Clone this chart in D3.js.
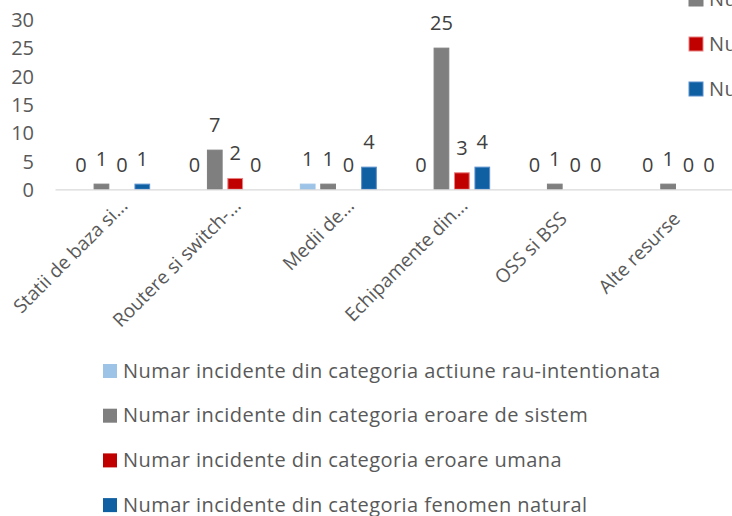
<!DOCTYPE html>
<html>
<head>
<meta charset="utf-8">
<script src="https://cdn.jsdelivr.net/npm/d3@7"></script>
<style>
  html, body { margin: 0; padding: 0; background: #fff; overflow: hidden; }
  svg { display: block; font-family: "Open Sans", sans-serif; }
</style>
</head>
<body>
<svg id="chart" width="732" height="516"></svg>
<script>
// ---- data ----
const categories = ["Statii de baza si...", "Routere si switch-...", "Medii de...", "Echipamente din...", "OSS si BSS", "Alte resurse"];
const seriesNames = [
  "Numar incidente din categoria actiune rau-intentionata",
  "Numar incidente din categoria eroare de sistem",
  "Numar incidente din categoria eroare umana",
  "Numar incidente din categoria fenomen natural"
];
const actiuneRau = [0, 0, 1, 0, 0, 0];
const eroareSistem = [1, 7, 1, 25, 1, 1];
const eroareUmana = [0, 2, 0, 3, 0, 0];
const fenomenNatural = [1, 0, 4, 4, 0, 0];
const yTicks = [0, 5, 10, 15, 20, 25, 30];

const seriesValues = [actiuneRau, eroareSistem, eroareUmana, fenomenNatural];
const colors = ["#9DC3E6", "#7F7F7F", "#C00000", "#0F5FA3"];
const strokes = ["#9DC3E6", "#7F7F7F", "#E88080", "#5B8FCB"];

const svg = d3.select("#chart");

const x0 = d3.scaleBand().domain(categories).range([55, 735]).paddingInner(0.3206).paddingOuter(0.1603);
const x1 = d3.scaleBand().domain(d3.range(seriesNames.length)).range([0, x0.bandwidth()]).paddingInner(0.231).paddingOuter(0);
const y = d3.scaleLinear().domain([0, 30]).range([189.3, 19.3]);

// y axis tick labels
const yAxis = d3.axisLeft(y).tickValues(yTicks).tickSize(0).tickPadding(0);
const gy = svg.append("g").attr("transform", "translate(34,0)").call(yAxis);
gy.select(".domain").remove();
gy.selectAll("text")
  .attr("font-family", "Open Sans, sans-serif")
  .attr("font-size", 20)
  .attr("fill", "#595959")
  .attr("dy", "0.36em")
  .attr("x", 0);

// bars
const groups = svg.append("g").selectAll("g")
  .data(categories)
  .join("g")
  .attr("transform", d => `translate(${x0(d)},0)`);

groups.each(function(cat, ci) {
  const g = d3.select(this);
  seriesValues.forEach((vals, si) => {
    const v = vals[ci];
    if (v > 0) {
      g.append("rect")
        .attr("x", x1(si) + 0.5)
        .attr("y", y(v) + 0.5)
        .attr("width", x1.bandwidth() - 1)
        .attr("height", y(0) - y(v) - 0.5)
        .attr("fill", colors[si])
        .attr("stroke", strokes[si])
        .attr("stroke-width", 1);
    }
    g.append("text")
      .attr("x", x1(si) + x1.bandwidth() / 2)
      .attr("y", y(v) - 17.5)
      .attr("text-anchor", "middle")
      .attr("font-size", 20)
      .attr("fill", "#404040")
      .text(v);
  });
});

// x axis baseline
const xAxis = d3.axisBottom(x0).tickSize(0).tickFormat("");
const gx = svg.append("g").attr("transform", `translate(0,${y(0)})`).call(xAxis);
gx.select(".domain").attr("stroke", "#D9D9D9").attr("stroke-width", 1.2);

// category labels, rotated -45
svg.append("g").selectAll("text")
  .data(categories)
  .join("text")
  .attr("transform", d => {
    const cx = x0(d) + x0.bandwidth() / 2;
    const trunc = d.endsWith("...");
    const ax = trunc ? cx + 17 : cx + 3;
    const ay = trunc ? 207 : 220;
    return `translate(${ax},${ay}) rotate(-45)`;
  })
  .attr("text-anchor", "end")
  .attr("font-size", 19)
  .attr("fill", "#595959")
  .text(d => d);

// bottom legend
const leg = svg.append("g").selectAll("g")
  .data(seriesNames)
  .join("g")
  .attr("transform", (d, i) => `translate(103,${364 + i * 44.7})`);
leg.append("rect").attr("width", 14).attr("height", 14).attr("fill", (d, i) => colors[i]);
leg.append("text").attr("x", 20).attr("y", 13.5).attr("font-size", 20).attr("letter-spacing", 0.45)
  .attr("fill", "#595959").text(d => d);

// right legend (clipped at the window edge, as in the reference)
const leg2 = svg.append("g").selectAll("g")
  .data(seriesNames)
  .join("g")
  .attr("transform", (d, i) => `translate(689,${-53 + i * 45})`);
leg2.append("rect").attr("width", 14).attr("height", 14).attr("fill", (d, i) => colors[i])
  .attr("stroke", (d, i) => strokes[i]).attr("stroke-width", 1);
leg2.append("text").attr("x", 20).attr("y", 13.5).attr("font-size", 20).attr("letter-spacing", 0.45)
  .attr("fill", "#595959").text(d => d);
</script>
</body>
</html>
